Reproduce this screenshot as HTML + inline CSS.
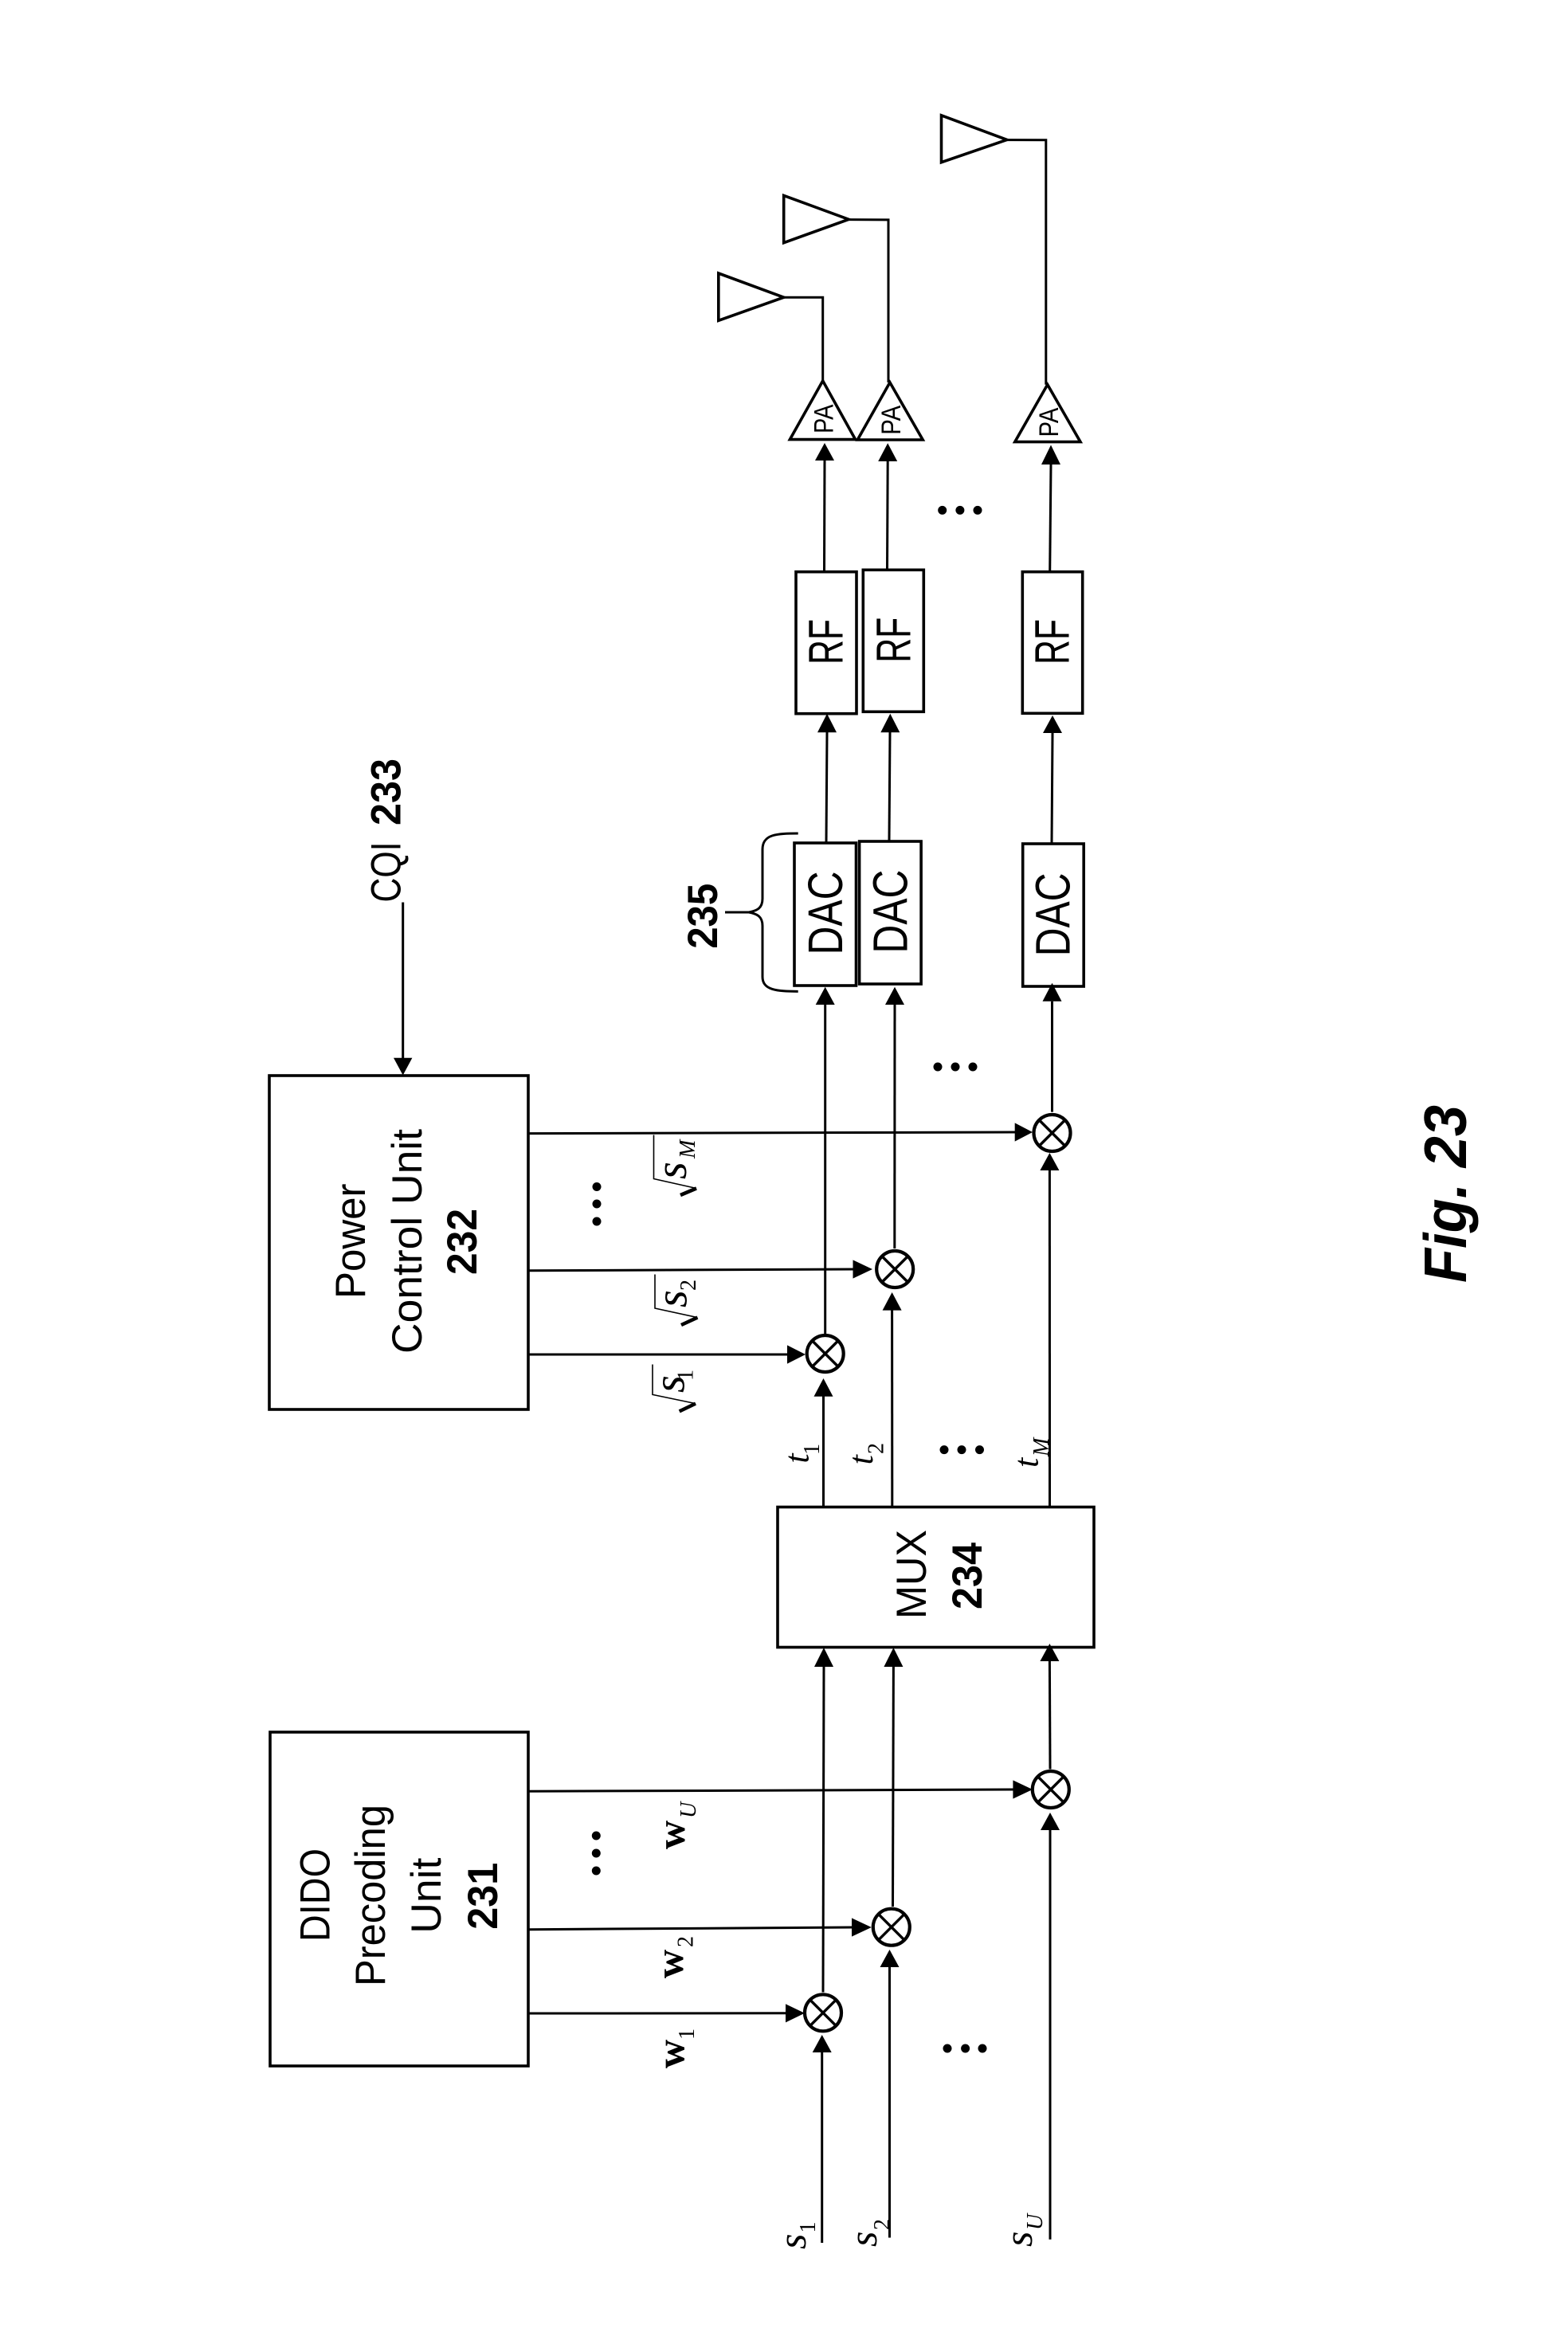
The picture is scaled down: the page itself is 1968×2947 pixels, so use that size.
<!DOCTYPE html>
<html><head><meta charset="utf-8"><style>
html,body{margin:0;padding:0;background:#fff}
svg{display:block}
text{fill:#000;font-family:"Liberation Sans",sans-serif}
.s{font-family:"Liberation Serif",serif;font-style:italic}
.n{font-family:"Liberation Serif",serif}
.w{font-family:"Liberation Serif",serif;font-weight:bold}
.b{font-weight:bold}
</style></head><body>
<svg width="1968" height="2947" viewBox="0 0 1968 2947" xmlns="http://www.w3.org/2000/svg">
<rect width="1968" height="2947" fill="#fff"/>
<g fill="none" stroke="#000" stroke-width="3.6">
<rect x="338" y="1350" width="325" height="419"/>
<rect x="339" y="2174" width="324" height="419"/>
<rect x="976" y="1891.5" width="397" height="176"/>
<rect x="997" y="1058" width="77.5" height="179"/>
<rect x="1078.6" y="1056" width="77.5" height="179"/>
<rect x="1283.7" y="1059" width="76.5" height="179"/>
<rect x="999" y="717.7" width="76" height="178"/>
<rect x="1083.3" y="715.3" width="76" height="178"/>
<rect x="1283.3" y="717.7" width="75.4" height="177.6"/>
<polygon points="1181.5,144.8 1263.8,175.4 1181.5,203.7"/>
<polygon points="983.7,245.4 1065.2,275.3 983.7,304.7"/>
<polygon points="901.8,343 983.7,373.2 901.8,402.3"/>
<polygon points="1032.7,478 1073.6,551.6 991.4,551.6"/>
<polygon points="1116.9,480 1158.2,552 1076.3,552"/>
<polygon points="1314.7,482.7 1356,554.6 1273.8,554.6"/>
</g>
<g fill="none" stroke="#000" stroke-width="3">
<polyline points="1263.8,175.6 1312.8,175.8 1312.8,482.7"/>
<polyline points="1065.2,275.6 1115,275.9 1115,480"/>
<polyline points="983.7,373.2 1032.7,373.2 1032.7,478"/>
<line x1="1034.5" y1="717" x2="1035" y2="578"/>
<line x1="1113.5" y1="715" x2="1114.2" y2="579"/>
<line x1="1317.7" y1="717" x2="1319" y2="583"/>
<line x1="1037" y1="1057" x2="1038" y2="919"/>
<line x1="1116" y1="1055" x2="1117" y2="919"/>
<line x1="1320" y1="1058" x2="1321" y2="920"/>
<line x1="1035.7" y1="1674.5" x2="1035.7" y2="1261"/>
<line x1="1122.8" y1="1567" x2="1123" y2="1261"/>
<line x1="1320.5" y1="1395.6" x2="1320.5" y2="1256.7"/>
<line x1="1033.5" y1="1891" x2="1033.5" y2="1752"/>
<line x1="1119.8" y1="1891" x2="1119.6" y2="1644"/>
<line x1="1317.5" y1="1891" x2="1317.4" y2="1469"/>
<line x1="1033" y1="2500.5" x2="1034" y2="2092"/>
<line x1="1120.5" y1="2393" x2="1121.4" y2="2092"/>
<line x1="1318" y1="2220.5" x2="1317.4" y2="2085"/>
<line x1="1031.7" y1="2815" x2="1031.7" y2="2576"/>
<line x1="1116.5" y1="2808.5" x2="1116.5" y2="2469"/>
<line x1="1318" y1="2810.7" x2="1318" y2="2297"/>
<line x1="664" y1="1422.6" x2="1274" y2="1421"/>
<line x1="664" y1="1594.8" x2="1071" y2="1593"/>
<line x1="664" y1="1700" x2="988" y2="1700"/>
<line x1="664" y1="2248.3" x2="1272" y2="2246"/>
<line x1="664" y1="2421.7" x2="1069" y2="2419"/>
<line x1="664" y1="2527" x2="986" y2="2526.8"/>
<line x1="505.7" y1="1132.5" x2="505.7" y2="1330"/>
<path d="M1001.7 1046C975 1046 957 1047 957 1066L957 1128C957 1140 950 1143 940 1145L910 1145L940 1145C950 1147 957 1150 957 1162L957 1226C957 1243 975 1244 1001.7 1244.4"/>
</g>
<g fill="#000">
<polygon points="1035,556 1023,578 1047,578"/>
<polygon points="1114.2,556.2 1102.2,579 1126.2,579"/>
<polygon points="1319,558.5 1307,583 1331,583"/>
<polygon points="1038,895.7 1026,919.3 1050,919.3"/>
<polygon points="1117.3,895.7 1105.3,919.3 1129.3,919.3"/>
<polygon points="1321,898 1309,920 1333,920"/>
<polygon points="1035.7,1238.7 1023.7,1261 1047.7,1261"/>
<polygon points="1123,1238.7 1111,1261 1135,1261"/>
<polygon points="1320.5,1233.7 1308.5,1256.7 1332.5,1256.7"/>
<polygon points="1033.5,1730 1021.5,1752.7 1045.5,1752.7"/>
<polygon points="1119.6,1622 1107.6,1644.6 1131.6,1644.6"/>
<polygon points="1317.4,1447 1305.4,1469 1329.4,1469"/>
<polygon points="1034,2068 1022,2092 1046,2092"/>
<polygon points="1121.4,2068 1109.4,2092 1133.4,2092"/>
<polygon points="1317.4,2063 1305.4,2085 1329.4,2085"/>
<polygon points="1031.7,2554 1019.7,2576 1043.7,2576"/>
<polygon points="1116.5,2447 1104.5,2469 1128.5,2469"/>
<polygon points="1318,2275 1306,2297 1330,2297"/>
<polygon points="1296,1421 1273.7,1409.4 1273.7,1432.6"/>
<polygon points="1095,1593 1070.5,1581.4 1070.5,1604.6"/>
<polygon points="1011,1700 988,1688.4 988,1711.6"/>
<polygon points="1296,2246 1271.4,2234.4 1271.4,2257.6"/>
<polygon points="1093.8,2419 1069,2407.4 1069,2430.6"/>
<polygon points="1010,2526.8 986,2515.2 986,2538.4"/>
<polygon points="505.7,1349.5 494,1327.7 517.4,1327.7"/>
<circle cx="1182.7" cy="640.4" r="5.5"/><circle cx="1204.9" cy="640.4" r="5.5"/><circle cx="1227" cy="640.4" r="5.5"/>
<circle cx="1177" cy="1339" r="5.5"/><circle cx="1199" cy="1339" r="5.5"/><circle cx="1221" cy="1339" r="5.5"/>
<circle cx="1185" cy="1819.6" r="5.5"/><circle cx="1207" cy="1819.6" r="5.5"/><circle cx="1229.5" cy="1819.6" r="5.5"/>
<circle cx="1189" cy="2571" r="5.5"/><circle cx="1211.6" cy="2571" r="5.5"/><circle cx="1233" cy="2571" r="5.5"/>
<circle cx="749" cy="1489.5" r="5.5"/><circle cx="749" cy="1511" r="5.5"/><circle cx="749" cy="1533" r="5.5"/>
<circle cx="748.3" cy="2304" r="5.5"/><circle cx="748.3" cy="2326" r="5.5"/><circle cx="748.3" cy="2348" r="5.5"/>
</g>
<g fill="#fff" stroke="#000" stroke-width="4.2">
<g transform="translate(1320.5,1422)"><circle r="23"/><path d="M-16-16L16 16M16-16L-16 16" stroke-width="3.4"/></g>
<g transform="translate(1123.2,1593)"><circle r="23"/><path d="M-16-16L16 16M16-16L-16 16" stroke-width="3.4"/></g>
<g transform="translate(1035.7,1699)"><circle r="23"/><path d="M-16-16L16 16M16-16L-16 16" stroke-width="3.4"/></g>
<g transform="translate(1318.8,2246)"><circle r="23"/><path d="M-16-16L16 16M16-16L-16 16" stroke-width="3.4"/></g>
<g transform="translate(1118.8,2418.7)"><circle r="23"/><path d="M-16-16L16 16M16-16L-16 16" stroke-width="3.4"/></g>
<g transform="translate(1033,2526.3)"><circle r="23"/><path d="M-16-16L16 16M16-16L-16 16" stroke-width="3.4"/></g>
</g>
<g fill="none" stroke="#000" stroke-width="1.6">
<polyline points="820.5,1424.5 820.5,1479.5 874,1491.5"/>
<polyline points="822,1599.5 822,1642 875.4,1653.6"/>
<polyline points="819,1712.5 819,1750.4 873,1761.6"/>
</g>
<g fill="none" stroke="#000" stroke-width="4.5">
<line x1="874" y1="1491.5" x2="854" y2="1500"/>
<line x1="875.4" y1="1653.6" x2="855" y2="1663"/>
<line x1="873" y1="1761.6" x2="852.7" y2="1771.4"/>
</g>
<g font-size="53">
<text transform="translate(413.3,2437) rotate(-90)" textLength="117" lengthAdjust="spacingAndGlyphs">DIDO</text>
<text transform="translate(483,2493) rotate(-90)" textLength="228" lengthAdjust="spacingAndGlyphs">Precoding</text>
<text transform="translate(553,2426.7) rotate(-90)" textLength="95" lengthAdjust="spacingAndGlyphs">Unit</text>
<text class="b" transform="translate(624,2421.7) rotate(-90)" textLength="84" lengthAdjust="spacingAndGlyphs">231</text>
<text transform="translate(458,1630) rotate(-90)" textLength="144.5" lengthAdjust="spacingAndGlyphs">Power</text>
<text transform="translate(529,1699) rotate(-90)" textLength="282" lengthAdjust="spacingAndGlyphs">Control Unit</text>
<text class="b" transform="translate(598,1600) rotate(-90)" textLength="83" lengthAdjust="spacingAndGlyphs">232</text>
<text transform="translate(502.7,1132.5) rotate(-90)" textLength="76" lengthAdjust="spacingAndGlyphs">CQI</text>
<text class="b" transform="translate(502.7,1036) rotate(-90)" textLength="84" lengthAdjust="spacingAndGlyphs">233</text>
<text transform="translate(1162,2032) rotate(-90)" textLength="112" lengthAdjust="spacingAndGlyphs">MUX</text>
<text class="b" transform="translate(1232,2020) rotate(-90)" textLength="84" lengthAdjust="spacingAndGlyphs">234</text>
<text class="b" transform="translate(900,1190.8) rotate(-90)" textLength="82" lengthAdjust="spacingAndGlyphs">235</text>
</g>
<g font-size="61">
<text transform="translate(1057,1198.5) rotate(-90)" textLength="105" lengthAdjust="spacingAndGlyphs">DAC</text>
<text transform="translate(1138.7,1196.6) rotate(-90)" textLength="105" lengthAdjust="spacingAndGlyphs">DAC</text>
<text transform="translate(1342.7,1200.4) rotate(-90)" textLength="105" lengthAdjust="spacingAndGlyphs">DAC</text>
<text transform="translate(1057.7,834) rotate(-90)" textLength="57" lengthAdjust="spacingAndGlyphs">RF</text>
<text transform="translate(1142.7,831.7) rotate(-90)" textLength="57" lengthAdjust="spacingAndGlyphs">RF</text>
<text transform="translate(1341.7,834) rotate(-90)" textLength="57" lengthAdjust="spacingAndGlyphs">RF</text>
</g>
<g font-size="34">
<text transform="translate(1045.7,544) rotate(-90)" textLength="36.5" lengthAdjust="spacingAndGlyphs">PA</text>
<text transform="translate(1130,545.8) rotate(-90)" textLength="37" lengthAdjust="spacingAndGlyphs">PA</text>
<text transform="translate(1328,548.5) rotate(-90)" textLength="37" lengthAdjust="spacingAndGlyphs">PA</text>
</g>
<text class="b" font-style="italic" font-size="75" transform="translate(1840,1610) rotate(-90)" textLength="223" lengthAdjust="spacingAndGlyphs">Fig. 23</text>
<g font-size="56">
<text class="s" transform="translate(861,1480) rotate(-90)">s</text>
<text class="s" transform="translate(861.6,1641) rotate(-90)">s</text>
<text class="s" transform="translate(858.5,1748) rotate(-90)">s</text>
</g>
<g font-size="44">
<text class="s" transform="translate(1014.7,1836.6) rotate(-90)">t</text>
<text class="s" transform="translate(1095,1838.4) rotate(-90)">t</text>
<text class="s" transform="translate(1302.7,1842) rotate(-90)">t</text>
</g>
<g font-size="50">
<text class="s" transform="translate(1011,2823) rotate(-90)">s</text>
<text class="s" transform="translate(1100,2820) rotate(-90)">s</text>
<text class="s" transform="translate(1295,2820) rotate(-90)">s</text>
</g>
<g font-size="50">
<text class="w" transform="translate(858.5,2596) rotate(-90)">w</text>
<text class="w" transform="translate(857,2483) rotate(-90)">w</text>
<text class="w" transform="translate(859,2321) rotate(-90)">w</text>
</g>
<g font-size="28">
<text class="s" transform="translate(872,1454) rotate(-90)">M</text>
<text class="n" transform="translate(873,1620) rotate(-90)">2</text>
<text class="n" transform="translate(869.6,1733) rotate(-90)">1</text>
<text class="n" transform="translate(1028,1826) rotate(-90)">1</text>
<text class="n" transform="translate(1108.5,1825) rotate(-90)">2</text>
<text class="s" transform="translate(1316,1828) rotate(-90)">M</text>
<text class="n" transform="translate(871,2560) rotate(-90)">1</text>
<text class="n" transform="translate(869.6,2444) rotate(-90)">2</text>
<text class="s" transform="translate(872.8,2282) rotate(-90)">U</text>
<text class="n" transform="translate(1023,2802.5) rotate(-90)">1</text>
<text class="n" transform="translate(1116,2799) rotate(-90)">2</text>
<text class="s" transform="translate(1308,2799) rotate(-90)">U</text>
</g>
</svg>
</body></html>
